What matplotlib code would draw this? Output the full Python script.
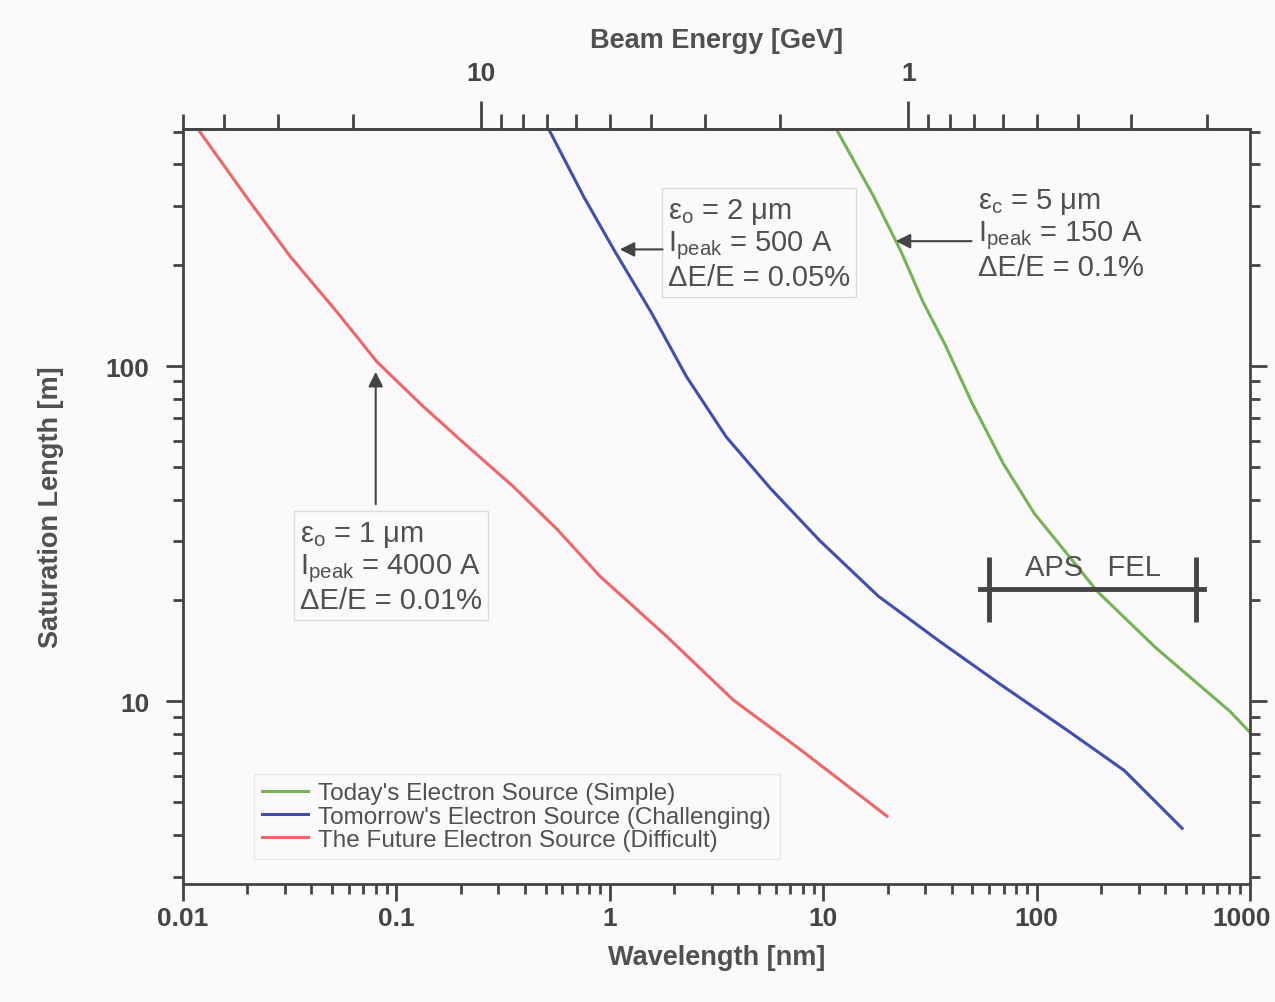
import numpy as np
import matplotlib
matplotlib.use("Agg")
from matplotlib import pyplot as plt
from matplotlib.ticker import FixedLocator, NullFormatter
from matplotlib.transforms import ScaledTranslation

plt.rcParams['font.family'] = ['Liberation Sans', 'DejaVu Sans']
plt.rcParams['mathtext.fontset'] = 'custom'
plt.rcParams['mathtext.rm'] = 'Liberation Sans'
plt.rcParams['mathtext.default'] = 'regular'

# wavelength [nm] / saturation length [m]
red_wl = [0.012, 0.0206, 0.0317, 0.0527, 0.0811, 0.133, 0.205, 0.352, 0.566, 0.90, 1.85, 3.78, 7.78, 19.9]
red_len = [500, 309, 213, 145, 103, 76, 59.3, 43.8, 32.6, 23.6, 15.6, 10.1, 7.19, 4.54]

blue_wl = [0.525, 0.757, 1.06, 1.56, 2.28, 3.51, 5.69, 9.66, 18.1, 35.6, 66.7, 137, 257, 480]
blue_len = [500, 319, 219, 145, 93.3, 61.5, 43.0, 30.1, 20.6, 15.0, 11.3, 8.25, 6.22, 4.18]

green_wl = [11.7, 17.3, 23.2, 29.4, 37.2, 49.8, 69.6, 97.3, 130, 192, 359, 805, 1000]
green_len = [500, 319, 219, 155, 116, 77.6, 51.3, 36.4, 29.0, 21.3, 14.5, 9.33, 8.07]

labels = ["Today's Electron Source (Simple)",
          "Tomorrow's Electron Source (Challenging)",
          "The Future Electron Source (Difficult)"]

energy_major = [10, 1]
energy_minor = [50, 40, 30, 20, 9, 8, 7, 6, 5, 4, 3, 2, 0.9, 0.8, 0.7, 0.6, 0.5, 0.4, 0.3, 0.2]

aps_range = [60, 560]
aps_level = 21.6

txt = '#505050'
bg = '#fcf9fc'

fig = plt.figure(figsize=(12.75, 10.03), dpi=100, facecolor=bg)
ax = fig.add_axes([0.1435, 0.1176, 0.8370, 0.7528])
ax.set_facecolor(bg)

ax.plot(green_wl, green_len, color='#72b552', lw=2.2, label=labels[0])
ax.plot(blue_wl, blue_len, color='#3d4fb0', lw=2.2, label=labels[1])
ax.plot(red_wl, red_len, color='#f06666', lw=2.2, label=labels[2])

ax.set_xscale('log')
ax.set_yscale('log')
ax.set_xlim(0.01, 1000)
ax.set_ylim(2.85, 510)

for s in ax.spines.values():
    s.set_color('#444444')
    s.set_linewidth(2)

ax.tick_params(which='both', direction='out', color='#444444', width=2,
               labelsize=19, labelcolor='#444444', right=True, top=False)
ax.tick_params(which='major', length=12)
ax.tick_params(which='minor', length=7)
ax.tick_params(axis='x', which='major', pad=4)
ax.tick_params(axis='y', which='major', pad=12)
ax.set_xticks([0.01, 0.1, 1, 10, 100, 1000])
ax.set_xticklabels(['0.01', '0.1', '1', '10', '100', '1000'], fontweight='bold')
ax.set_yticks([10, 100])
ax.set_yticklabels(['10', '100'], fontweight='bold')
ax.yaxis.set_minor_formatter(NullFormatter())
# keep the last label inside the figure
last = ax.get_xticklabels()[-1]
last.set_transform(last.get_transform() + ScaledTranslation(-6 / 72, 0, fig.dpi_scale_trans))

ax.set_xlabel('Wavelength [nm]', fontsize=19.5, fontweight='bold', color=txt, labelpad=10)
ax.set_ylabel('Saturation Length [m]', fontsize=19.5, fontweight='bold', color=txt, labelpad=30)

# top axis: beam energy, lambda = 25 / E^2
top = ax.secondary_xaxis('top', functions=(lambda l: 5 / np.sqrt(l), lambda e: 25 / e ** 2))
top.xaxis.set_major_locator(FixedLocator(energy_major))
top.xaxis.set_minor_locator(FixedLocator(energy_minor))
top.set_xticklabels(['10', '1'], fontweight='bold')
top.xaxis.set_minor_formatter(NullFormatter())
top.tick_params(which='both', direction='out', color='#444444', width=2,
                labelsize=19, labelcolor='#444444')
top.tick_params(which='major', length=20, pad=12)
top.tick_params(which='minor', length=11)
top.spines['top'].set_color('#444444')
top.spines['top'].set_linewidth(2)
top.set_xlabel('Beam Energy [GeV]', fontsize=19.5, fontweight='bold', color=txt, labelpad=10)

# annotations
box = dict(boxstyle='square,pad=0.2', facecolor='none', edgecolor='#dcdcdc', lw=1)
ann = dict(fontsize=21, color=txt, va='top', ha='left', linespacing=1.1)
ax.text(0.0353, 35, 'ε$_o$ = 1 μm\n$I_{peak}$ = 4000 A\nΔE/E = 0.01%', bbox=box, **ann)
ax.annotate('', xy=(0.08, 98), xytext=(0.08, 38),
            arrowprops=dict(arrowstyle='-|>', color='#444444', lw=1.5, mutation_scale=22))

ax.text(1.87, 322, 'ε$_o$ = 2 μm\n$I_{peak}$ = 500 A\nΔE/E = 0.05%', bbox=box, **ann)
ax.annotate('', xy=(1.08, 223), xytext=(1.82, 223),
            arrowprops=dict(arrowstyle='-|>', color='#444444', lw=1.5, mutation_scale=22))

ax.text(53, 345, 'ε$_c$ = 5 μm\n$I_{peak}$ = 150 A\nΔE/E = 0.1%', **ann)
ax.annotate('', xy=(21.2, 236), xytext=(51, 236),
            arrowprops=dict(arrowstyle='-|>', color='#444444', lw=1.5, mutation_scale=22))

# APS FEL range bar
ax.plot([aps_range[0] * 0.9, aps_range[1] * 1.08], [aps_level, aps_level], color='#444444', lw=3.5)
ax.vlines(aps_range, aps_level / 1.25, aps_level * 1.25, color='#444444', lw=3.5)
ax.text(184, aps_level * 1.06, 'APS   FEL', fontsize=21, color=txt, ha='center', va='bottom')

leg = ax.legend(loc='upper left', bbox_to_anchor=(0.055, 0.162), fontsize=17.5, frameon=True,
                fancybox=False, handlelength=1.9, handletextpad=0.4, labelspacing=0.05,
                borderpad=0.35)
leg.get_frame().set_edgecolor('#e6e2e6')
leg.get_frame().set_facecolor(bg)
for t in leg.get_texts():
    t.set_color(txt)

fig.savefig('out.png', dpi=100, facecolor=bg)
